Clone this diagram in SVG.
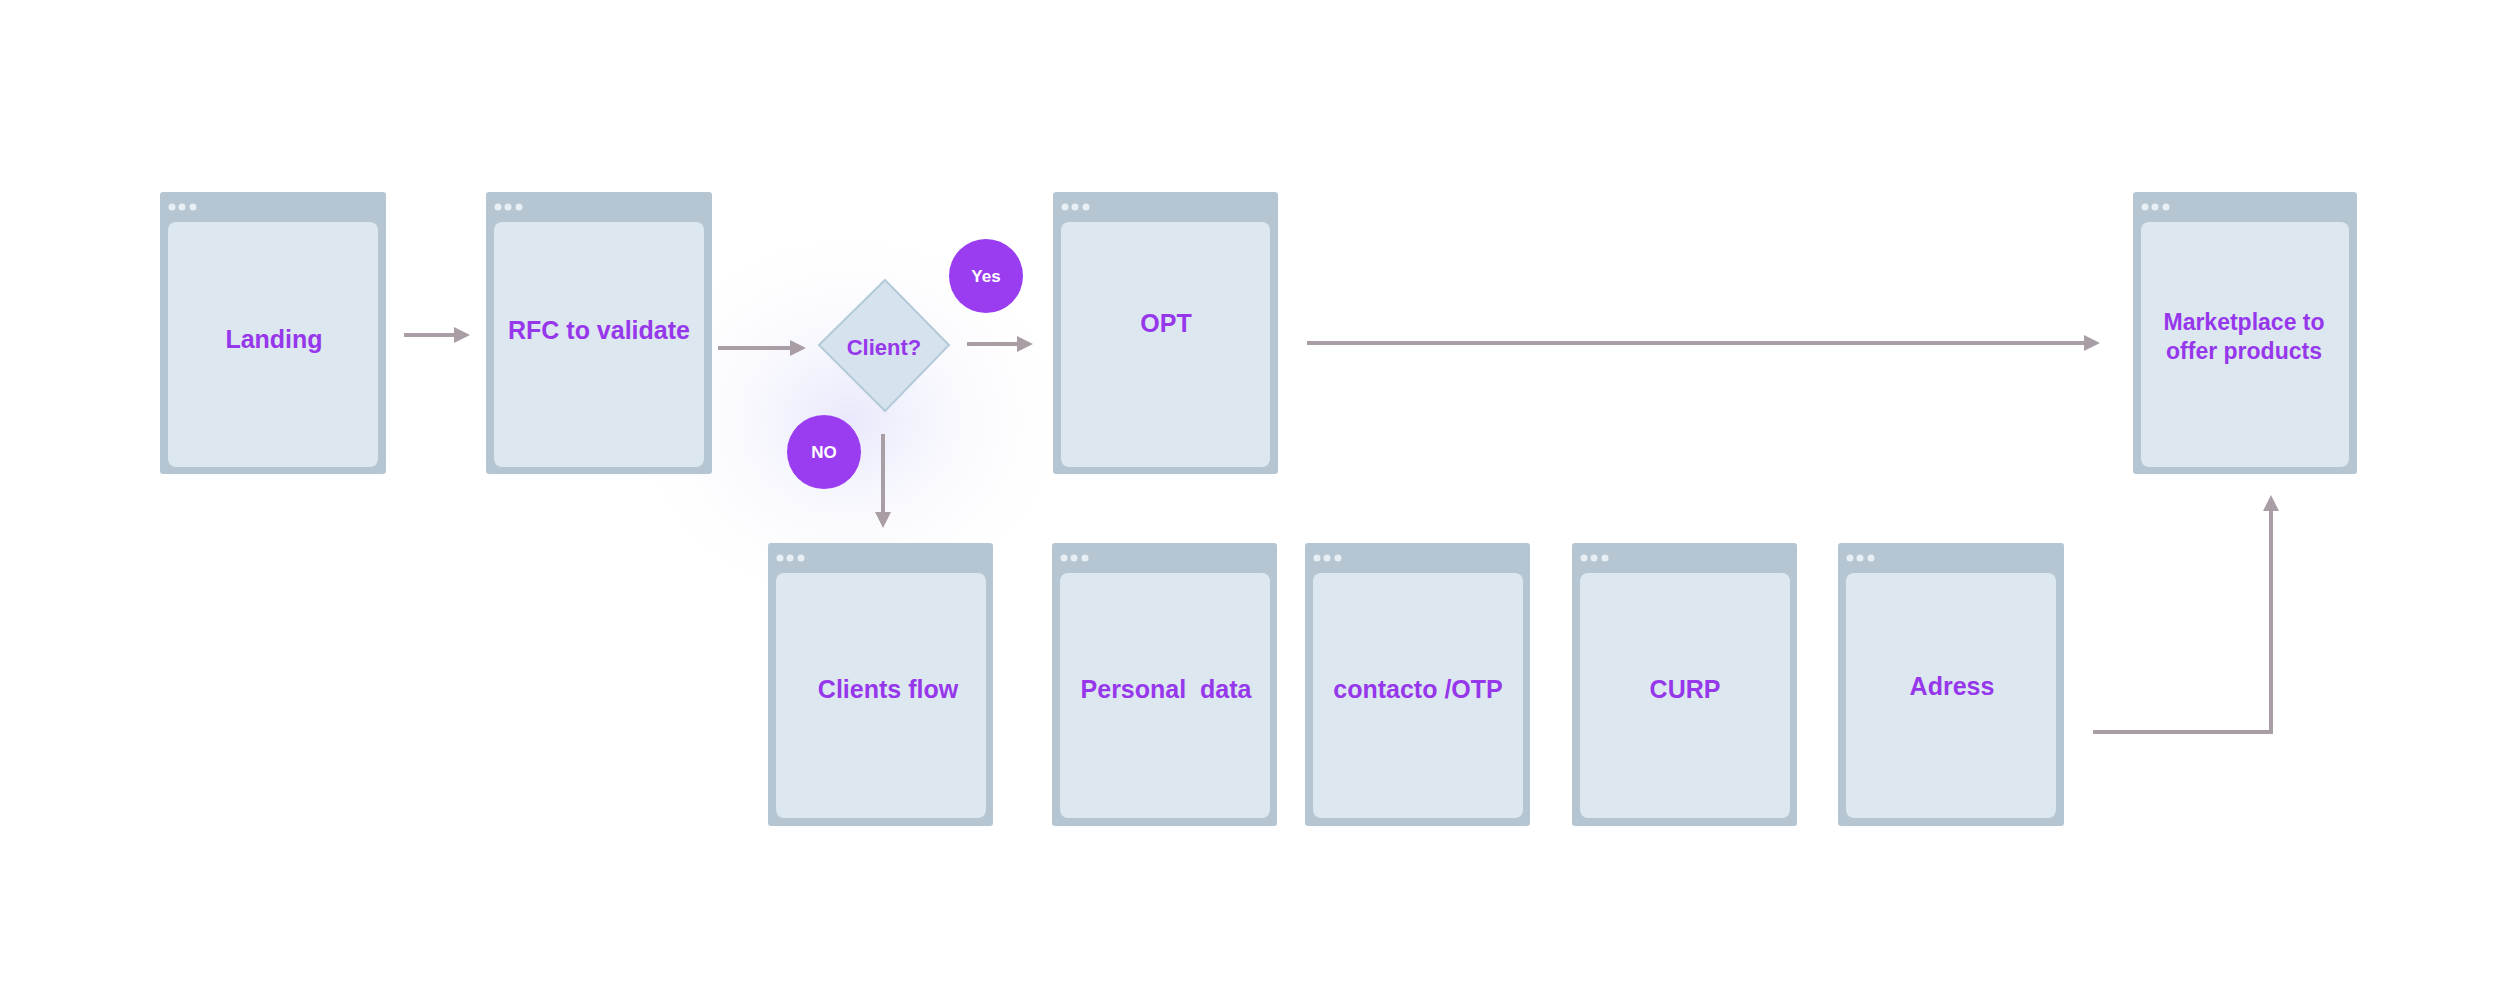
<svg xmlns="http://www.w3.org/2000/svg" width="2520" height="985" viewBox="0 0 2520 985">
<defs>
<radialGradient id="glow" cx="0.5" cy="0.5" r="0.5">
<stop offset="0" stop-color="#e6e6fb" stop-opacity="0.9"/>
<stop offset="1" stop-color="#ffffff" stop-opacity="0"/>
</radialGradient>
<marker id="ah" markerWidth="4" markerHeight="4" refX="2" refY="2" orient="auto" markerUnits="strokeWidth">
<path d="M0,0 L4,2 L0,4 Z" fill="#a99ea5"/>
</marker>
</defs>
<style>
.fr{fill:#b5c6d2}
.in{fill:#dce7ef}
.dot{fill:#e8eff4}
.t{font-family:"Liberation Sans",Arial,sans-serif;font-weight:bold;font-size:25px;fill:#9637ec;text-anchor:middle}
.c{fill:#9a3cf0}
.ct{font-family:"Liberation Sans",Arial,sans-serif;font-weight:bold;font-size:17px;fill:#ffffff;text-anchor:middle}
.ln{stroke:#a99ea5;stroke-width:4;fill:none}
</style>
<rect width="2520" height="985" fill="#ffffff"/>
<ellipse cx="850" cy="420" rx="230" ry="200" fill="url(#glow)"/>
<g id="landing"><rect class="fr" x="160" y="192" width="226" height="282" rx="3"/><rect class="in" x="168" y="222" width="210" height="245" rx="8"/><circle class="dot" cx="172" cy="207" r="3.5"/><circle class="dot" cx="182" cy="207" r="3.5"/><circle class="dot" cx="193" cy="207" r="3.5"/><text class="t" x="274" y="348">Landing</text></g>
<g id="rfc"><rect class="fr" x="486" y="192" width="226" height="282" rx="3"/><rect class="in" x="494" y="222" width="210" height="245" rx="8"/><circle class="dot" cx="498" cy="207" r="3.5"/><circle class="dot" cx="508" cy="207" r="3.5"/><circle class="dot" cx="519" cy="207" r="3.5"/><text class="t" x="599" y="339">RFC to validate</text></g>
<g id="client"><polygon points="885,280 949,345 885,411 819,345" fill="#d6e2ee" stroke="#b3cad8" stroke-width="2"/><text class="t" x="884" y="355" font-size="22" style="font-size:22px">Client?</text></g>
<g id="yes"><circle class="c" cx="986" cy="276" r="37"/><text class="ct" x="986" y="282">Yes</text></g>
<g id="no"><circle class="c" cx="824" cy="452" r="37"/><text class="ct" x="824" y="458">NO</text></g>
<g id="opt"><rect class="fr" x="1053" y="192" width="225" height="282" rx="3"/><rect class="in" x="1061" y="222" width="209" height="245" rx="8"/><circle class="dot" cx="1065" cy="207" r="3.5"/><circle class="dot" cx="1075" cy="207" r="3.5"/><circle class="dot" cx="1086" cy="207" r="3.5"/><text class="t" x="1166" y="332">OPT</text></g>
<g id="marketplace"><rect class="fr" x="2133" y="192" width="224" height="282" rx="3"/><rect class="in" x="2141" y="222" width="208" height="245" rx="8"/><circle class="dot" cx="2145" cy="207" r="3.5"/><circle class="dot" cx="2155" cy="207" r="3.5"/><circle class="dot" cx="2166" cy="207" r="3.5"/><text class="t" x="2244" y="330" style="font-size:23px">Marketplace to</text><text class="t" x="2244" y="359" style="font-size:23px">offer products</text></g>
<g id="clientsflow"><rect class="fr" x="768" y="543" width="225" height="283" rx="3"/><rect class="in" x="776" y="573" width="210" height="245" rx="8"/><circle class="dot" cx="780" cy="558" r="3.5"/><circle class="dot" cx="790" cy="558" r="3.5"/><circle class="dot" cx="801" cy="558" r="3.5"/><text class="t" x="888" y="698">Clients flow</text></g>
<g id="personal"><rect class="fr" x="1052" y="543" width="225" height="283" rx="3"/><rect class="in" x="1060" y="573" width="210" height="245" rx="8"/><circle class="dot" cx="1064" cy="558" r="3.5"/><circle class="dot" cx="1074" cy="558" r="3.5"/><circle class="dot" cx="1085" cy="558" r="3.5"/><text class="t" x="1166" y="698" xml:space="preserve">Personal  data</text></g>
<g id="contacto"><rect class="fr" x="1305" y="543" width="225" height="283" rx="3"/><rect class="in" x="1313" y="573" width="210" height="245" rx="8"/><circle class="dot" cx="1317" cy="558" r="3.5"/><circle class="dot" cx="1327" cy="558" r="3.5"/><circle class="dot" cx="1338" cy="558" r="3.5"/><text class="t" x="1418" y="698">contacto /OTP</text></g>
<g id="curp"><rect class="fr" x="1572" y="543" width="225" height="283" rx="3"/><rect class="in" x="1580" y="573" width="210" height="245" rx="8"/><circle class="dot" cx="1584" cy="558" r="3.5"/><circle class="dot" cx="1594" cy="558" r="3.5"/><circle class="dot" cx="1605" cy="558" r="3.5"/><text class="t" x="1685" y="698">CURP</text></g>
<g id="adress"><rect class="fr" x="1838" y="543" width="226" height="283" rx="3"/><rect class="in" x="1846" y="573" width="210" height="245" rx="8"/><circle class="dot" cx="1850" cy="558" r="3.5"/><circle class="dot" cx="1860" cy="558" r="3.5"/><circle class="dot" cx="1871" cy="558" r="3.5"/><text class="t" x="1952" y="695">Adress</text></g>
<g id="connectors">
<line class="ln" x1="404" y1="335" x2="462" y2="335" marker-end="url(#ah)"/>
<line class="ln" x1="718" y1="348" x2="798" y2="348" marker-end="url(#ah)"/>
<line class="ln" x1="967" y1="344" x2="1025" y2="344" marker-end="url(#ah)"/>
<line class="ln" x1="883" y1="434" x2="883" y2="520" marker-end="url(#ah)"/>
<line class="ln" x1="1307" y1="343" x2="2092" y2="343" marker-end="url(#ah)"/>
<polyline class="ln" points="2093,732 2271,732 2271,503" marker-end="url(#ah)"/>
</g>
</svg>
